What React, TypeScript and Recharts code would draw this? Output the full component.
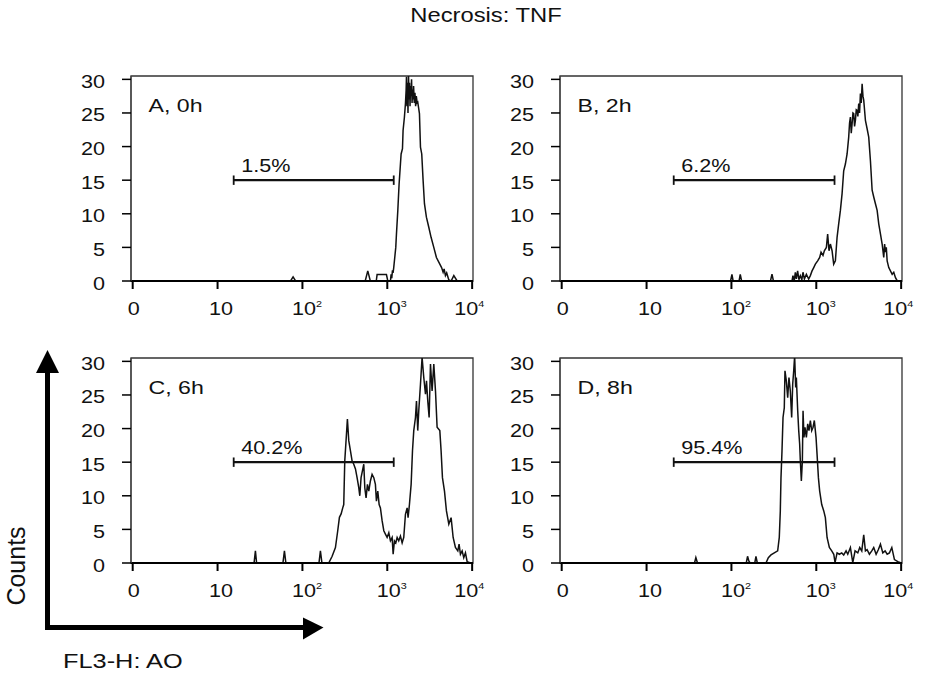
import React from 'react';
import { LineChart, Line, XAxis, YAxis, ReferenceLine, ReferenceArea, ReferenceDot } from 'recharts';

const FONT = '"Liberation Sans", Arial, Helvetica, sans-serif';

// axis ticks (x is in log decades: 0 -> "0", 1 -> "10", 2 -> "10²" ...)
const xTicks = [0, 1, 2, 3, 4];
const xTickBase = ['0', '10', '10', '10', '10'];
const xTickSup = ['', '', '2', '3', '4'];
const yTicks = [0, 5, 10, 15, 20, 25, 30];

const panelNames = ['A, 0h', 'B, 2h', 'C, 6h', 'D, 8h'];
const gatePercents = ['1.5%', '6.2%', '40.2%', '95.4%'];
const gateStart = [1.19, 1.32, 1.19, 1.32];
const gateEnd = [3.076, 3.215, 3.076, 3.215];
const gateLevel = 15;

// histograms: [decade, counts]
const histA: [number, number][] = [
  [0, 0], [1.86, 0], [1.89, 0.6], [1.92, 0], [2.74, 0], [2.77, 1.5], [2.8, 0], [2.87, 0], [2.88, 0.95],
  [2.99, 0.95], [3.006, 0], [3.037, 0], [3.045, 1.0], [3.053, 0.4], [3.061, 1.6], [3.068, 1.2], [3.076, 2.0],
  [3.088, 3.5], [3.1, 5.0], [3.108, 7.0], [3.124, 10.5], [3.139, 14.4], [3.155, 17.4], [3.163, 18.9],
  [3.179, 19.7], [3.186, 22.4], [3.202, 24.4], [3.214, 26.4], [3.222, 28.4], [3.226, 30.4], [3.232, 26],
  [3.238, 29.5], [3.244, 25], [3.25, 30.8], [3.256, 27], [3.262, 29.5], [3.268, 26], [3.274, 29], [3.28, 27.5],
  [3.286, 30], [3.292, 26.5], [3.298, 28.5], [3.304, 27], [3.31, 29], [3.318, 26.5], [3.326, 28], [3.334, 26],
  [3.342, 27.5], [3.352, 26.5], [3.359, 26.6], [3.379, 24.9], [3.391, 19.9], [3.406, 18.9], [3.422, 15],
  [3.438, 11.5], [3.461, 9.5], [3.489, 8], [3.516, 6.5], [3.548, 5], [3.579, 3.5], [3.619, 2.5], [3.64, 2],
  [3.658, 1.3], [3.67, 1.8], [3.685, 0.8], [3.7, 1.2], [3.725, 0.15], [3.752, 0], [3.784, 0.8], [3.823, 0],
  [4.01, 0],
];

const histB: [number, number][] = [
  [0, 0], [1.99, 0], [2.006, 1.0], [2.02, 0], [2.09, 0], [2.104, 1.0], [2.12, 0], [2.46, 0], [2.478, 1.0],
  [2.495, 0], [2.714, 0], [2.725, 0.8], [2.74, 0], [2.753, 1.3], [2.765, 0.3], [2.78, 1.5], [2.795, 0.2],
  [2.812, 0.8], [2.83, 0.2], [2.843, 1.3], [2.86, 0.3], [2.883, 1.0], [2.91, 0.3], [2.93, 0.8], [2.95, 1.5],
  [2.97, 2.0], [2.989, 2.5], [3.016, 3.0], [3.04, 3.5], [3.056, 4.3], [3.079, 3.8], [3.095, 4.5], [3.119, 5.0],
  [3.134, 7.0], [3.15, 4.5], [3.166, 5.5], [3.186, 4.5], [3.205, 2.5], [3.225, 3.0], [3.245, 6.5], [3.264, 8.5],
  [3.284, 10.5], [3.304, 13.0], [3.323, 16.4], [3.343, 17.4], [3.363, 18.9], [3.382, 21.4], [3.392, 23.5],
  [3.402, 24.4], [3.412, 22], [3.422, 23.4], [3.432, 25], [3.441, 24.9], [3.451, 23], [3.461, 23.9],
  [3.471, 25.5], [3.481, 25.4], [3.49, 24.5], [3.5, 26.4], [3.51, 25], [3.52, 27.9], [3.53, 26.5], [3.54, 29.35],
  [3.55, 27.5], [3.559, 26.9], [3.579, 23.9], [3.599, 22.65], [3.618, 21.4], [3.638, 17.9], [3.658, 13.5],
  [3.677, 12.5], [3.697, 11.5], [3.717, 10.5], [3.736, 8.5], [3.756, 7.0], [3.776, 5.5], [3.795, 3.5],
  [3.805, 5.5], [3.815, 4.3], [3.825, 5.0], [3.835, 3.0], [3.854, 2.0], [3.874, 1.5], [3.894, 1.0],
  [3.913, 1.3], [3.933, 0.5], [3.953, 0.04], [3.972, 0], [4.02, 0],
];

const histC: [number, number][] = [
  [0, 0], [1.43, 0], [1.446, 1.8], [1.46, 0], [1.77, 0], [1.788, 1.8], [1.805, 0], [2.195, 0], [2.212, 1.8],
  [2.23, 0], [2.31, 0], [2.35, 1.0], [2.389, 2.3], [2.416, 4.8], [2.436, 6.8], [2.456, 7.3], [2.475, 8.2],
  [2.487, 8.7], [2.499, 15.2], [2.519, 19.2], [2.53, 21.4], [2.546, 18.2], [2.566, 16.7], [2.585, 15.2],
  [2.605, 14.7], [2.625, 14.0], [2.644, 12.7], [2.664, 11.2], [2.676, 10.0], [2.691, 12.7], [2.707, 13.7],
  [2.723, 14.7], [2.735, 11.2], [2.75, 9.7], [2.766, 11.7], [2.782, 10.7], [2.801, 12.2], [2.821, 13.2],
  [2.841, 12.7], [2.86, 11.7], [2.872, 9.2], [2.888, 10.7], [2.904, 8.7], [2.919, 8.2], [2.939, 6.3],
  [2.959, 4.8], [2.978, 4.3], [2.998, 3.8], [3.018, 4.5], [3.037, 3.3], [3.057, 3.8], [3.069, 1.3],
  [3.084, 3.3], [3.1, 3.0], [3.116, 3.8], [3.135, 3.3], [3.155, 4.0], [3.175, 3.0], [3.194, 3.8],
  [3.214, 7.25], [3.234, 8.2], [3.245, 6.75], [3.261, 8.7], [3.281, 11.7], [3.297, 16.7], [3.312, 19.7],
  [3.332, 21.65], [3.344, 24.1], [3.359, 19.7], [3.371, 22.65], [3.391, 26.6], [3.41, 30.6], [3.43, 27.6],
  [3.45, 25.1], [3.462, 27.1], [3.477, 24.1], [3.493, 21.65], [3.509, 29.6], [3.528, 25.6], [3.548, 29.6],
  [3.568, 25.6], [3.587, 20.2], [3.619, 19.7], [3.634, 16.7], [3.65, 12.7], [3.674, 10.7], [3.697, 7.75],
  [3.725, 5.8], [3.752, 6.75], [3.776, 3.8], [3.803, 2.3], [3.831, 1.8], [3.846, 2.8], [3.862, 1.3],
  [3.882, 1.8], [3.901, 0.8], [3.921, 1.5], [3.941, 0.2], [3.98, 0], [4.01, 0],
];

const histD: [number, number][] = [
  [0, 0], [1.565, 0], [1.581, 0.8], [1.6, 0], [2.175, 0], [2.19, 1.0], [2.205, 0.3], [2.22, 0], [2.275, 0],
  [2.289, 1.0], [2.305, 0], [2.407, 0], [2.435, 0.8], [2.466, 1.2], [2.505, 1.5], [2.545, 1.8], [2.564, 3.8],
  [2.576, 7.75], [2.584, 12.7], [2.596, 16.7], [2.608, 21.65], [2.623, 23.1], [2.631, 28.6], [2.647, 27.1],
  [2.663, 24.6], [2.678, 27.6], [2.694, 25.6], [2.71, 21.65], [2.722, 26.6], [2.734, 28.6], [2.745, 30.8],
  [2.757, 26.1], [2.765, 27.6], [2.781, 22.65], [2.793, 19.7], [2.804, 17.7], [2.812, 15.2], [2.824, 12.2],
  [2.836, 15.2], [2.844, 22.65], [2.855, 18.7], [2.867, 20.2], [2.883, 18.7], [2.899, 20.7], [2.914, 19.7],
  [2.93, 21.2], [2.946, 19.7], [2.962, 20.2], [2.977, 21.2], [2.997, 18.7], [3.009, 16.2], [3.025, 12.7],
  [3.04, 10.7], [3.064, 8.7], [3.088, 7.75], [3.107, 6.75], [3.127, 3.8], [3.154, 2.3], [3.182, 1.8],
  [3.206, 1.3], [3.221, 0.05], [3.245, 1.5], [3.272, 1.3], [3.3, 1.5], [3.323, 1.2], [3.351, 1.8],
  [3.371, 1.3], [3.402, 2.3], [3.43, 0.05], [3.457, 1.8], [3.489, 1.5], [3.512, 2.3], [3.536, 1.8],
  [3.559, 4.2], [3.579, 1.8], [3.599, 2.0], [3.626, 1.3], [3.654, 1.8], [3.677, 2.3], [3.705, 1.3],
  [3.732, 2.0], [3.756, 2.8], [3.784, 1.5], [3.811, 1.8], [3.835, 1.3], [3.862, 1.5], [3.89, 2.3],
  [3.921, 0.5], [3.961, 0.2], [4.0, 0], [4.02, 0],
];

const histograms = [histA, histB, histC, histD];

// layout
const CHART_W = 430;
const CHART_H = 268;
const MARGIN = { top: 16, right: 27, bottom: 7, left: 0 };
const X_H = 40;
const Y_W = 61;
const X_DOMAIN: [number, number] = [-0.02, 4.01];
const Y_DOMAIN: [number, number] = [0, 30.5];
const GATE_CAP = 0.7;
const panelPos = [
  { left: 70, top: 60 },
  { left: 499, top: 60 },
  { left: 70, top: 342 },
  { left: 499, top: 342 },
];

const tickOffset = [1, 3.5, 4.5, 4.5, -3];
const textInk = { fill: '#111' };

const XTick = (p: any) => {
  const i = xTicks.indexOf(p.payload.value);
  return (
    <text
      transform={`translate(${p.x + tickOffset[i]},${p.y + 23.5}) scale(1.2,1)`}
      textAnchor="middle" fontFamily={FONT} fontSize={18} {...textInk}
    >
      {xTickBase[i]}
      {xTickSup[i] ? <tspan fontSize={9} dy={-8}>{xTickSup[i]}</tspan> : null}
    </text>
  );
};

const YTick = (p: any) => (
  <text
    transform={`translate(${p.x - 15},${p.y + 8.5}) scale(1.2,1)`}
    textAnchor="end" fontFamily={FONT} fontSize={18} {...textInk}
  >
    {p.payload.value}
  </text>
);

const Panel = ({ idx }: { idx: number }) => {
  const pts = histograms[idx].map(([x, y]) => ({ x, y }));
  const gs = gateStart[idx];
  const ge = gateEnd[idx];
  return (
    <div style={{ position: 'absolute', left: panelPos[idx].left, top: panelPos[idx].top }}>
      <LineChart width={CHART_W} height={CHART_H} data={pts} margin={MARGIN}>
        <XAxis
          type="number" dataKey="x" domain={X_DOMAIN} ticks={xTicks} allowDataOverflow height={X_H}
          tickSize={8} tick={XTick} interval={0}
          axisLine={{ stroke: '#000', strokeWidth: 2 }} tickLine={{ stroke: '#000', strokeWidth: 2 }}
        />
        <YAxis
          type="number" domain={Y_DOMAIN} ticks={yTicks} allowDataOverflow width={Y_W}
          tickSize={9} tick={YTick} interval={0}
          axisLine={{ stroke: '#444', strokeWidth: 1.2 }} tickLine={{ stroke: '#000', strokeWidth: 1.5 }}
        />
        <ReferenceArea
          x1={X_DOMAIN[0]} x2={X_DOMAIN[1]} y1={Y_DOMAIN[0]} y2={Y_DOMAIN[1]}
          fill="none" fillOpacity={0} stroke="#333" strokeWidth={1.3}
        />
        <Line type="linear" dataKey="y" stroke="#111" strokeWidth={1.5} dot={false} isAnimationActive={false} />
        <ReferenceLine segment={[{ x: gs, y: gateLevel }, { x: ge, y: gateLevel }]} stroke="#111" strokeWidth={2.2} />
        <ReferenceLine segment={[{ x: gs, y: gateLevel - GATE_CAP }, { x: gs, y: gateLevel + GATE_CAP }]} stroke="#111" strokeWidth={1.8} />
        <ReferenceLine segment={[{ x: ge, y: gateLevel - GATE_CAP }, { x: ge, y: gateLevel + GATE_CAP }]} stroke="#111" strokeWidth={1.8} />
        <ReferenceDot
          x={gs} y={gateLevel} r={0}
          shape={(p: any) => (
            <text
              transform={`translate(${p.cx + 7.5},${p.cy - 8.5}) scale(1.2,1)`}
              fontFamily={FONT} fontSize={18} {...textInk}
            >
              {gatePercents[idx]}
            </text>
          )}
        />
      </LineChart>
    </div>
  );
};

export default function App() {
  return (
    <div
      style={{
        position: 'absolute', left: 0, top: 0, width: 927, height: 675,
        background: '#fff', overflow: 'hidden', fontFamily: FONT,
      }}
    >
      {[0, 1, 2, 3].map((i) => <Panel key={i} idx={i} />)}
      <svg width={927} height={675} style={{ position: 'absolute', left: 0, top: 0, pointerEvents: 'none' }}>
        <text transform="translate(486,22) scale(1.22,1)" textAnchor="middle" fontFamily={FONT} fontSize={19.5} {...textInk}>
          Necrosis: TNF
        </text>
        {panelPos.map((p, i) => (
          <text
            key={i}
            transform={`translate(${p.left + Y_W + 17.5},${p.top + MARGIN.top + 35.5}) scale(1.25,1)`}
            fontFamily={FONT} fontSize={18.5} {...textInk}
          >
            {panelNames[i]}
          </text>
        ))}
        <text transform="translate(24.5,566) rotate(-90)" textAnchor="middle" fontFamily={FONT} fontSize={25} {...textInk}>
          Counts
        </text>
        <text transform="translate(63,668) scale(1.3,1)" fontFamily={FONT} fontSize={19.5} {...textInk}>
          FL3-H: AO
        </text>
        <rect x={45} y={370} width={5} height={260} fill="#000" />
        <polygon points="36,373 59,373 47.5,350" fill="#000" />
        <rect x={45} y={625} width={260} height={5} fill="#000" />
        <polygon points="303,617.5 303,639.5 323.5,627.5" fill="#000" />
      </svg>
    </div>
  );
}
